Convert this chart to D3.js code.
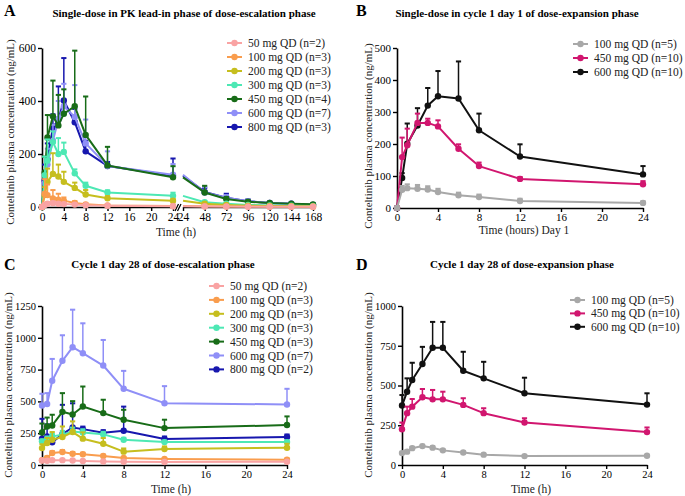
<!DOCTYPE html>
<html><head><meta charset="utf-8">
<script src="https://cdn.jsdelivr.net/npm/d3@7"></script>
<style>body{margin:0;background:#fff}svg{display:block}</style>
</head><body>
<svg id="c" width="685" height="496"></svg>
<script>
const FONT = "'Liberation Serif','Times New Roman',serif";
const svg = d3.select("#c");

// ---------------- DATA ----------------
const timesA = [0,0.5,1,2,3,4,6,8,12,24,48,72,96,120,144,168];
const timesB = [0,0.5,1,2,3,4,6,8,12,24];

const labelsEscA = ["50 mg QD (n=2)","100 mg QD (n=3)","200 mg QD (n=3)","300 mg QD (n=3)","450 mg QD (n=4)","600 mg QD (n=7)","800 mg QD (n=3)"];
const labelsEscC = ["50 mg QD (n=2)","100 mg QD (n=3)","200 mg QD (n=3)","300 mg QD (n=3)","450 mg QD (n=3)","600 mg QD (n=7)","800 mg QD (n=2)"];
const labelsExp = ["100 mg QD (n=5)","450 mg QD (n=10)","600 mg QD (n=10)"];
const colorsEsc = ["#F9A3A3","#F99D4E","#C6BE1E","#4DE8B4","#186C18","#8F8FF7","#1717AE"];
const colorsExp = ["#A8A8A8","#D1166F","#111111"];

const yTicksA = [0,200,400,600];
const xTicksA1 = [0,4,8,12,16,20,24];
const xTicksA2 = [24,48,72,96,120,144,168];
const yTicksB = [0,100,200,300,400,500];
const xTicks24 = [0,4,8,12,16,20,24];
const yTicksC = [0,250,500,750,1000,1250];
const yTicksD = [0,250,500,750,1000];

// Panel A: single dose, PK lead-in (dose escalation)
const A_50  = [0,8,12,14,12,11,9,7,5,3,2,2,1,1,1,1];
const A_50_sd  = [0,4,6,6,5,5,4,3,2,2,1,1,1,1,1,1];
const A_100 = [0,50,45,32,28,24,15,10,6,4,3,2,2,1,1,1];
const A_100_sd = [0,55,40,32,22,12,7,5,3,2,1,1,1,1,1,1];
const A_200 = [0,45,95,125,115,95,72,47,33,24,12,8,5,4,3,2];
const A_200_sd = [0,30,50,78,45,38,20,17,8,6,4,3,2,1,1,1];
const A_300 = [0,120,175,245,200,208,127,80,55,42,18,12,8,6,5,4];
const A_300_sd = [0,70,80,40,60,35,15,12,8,12,5,3,2,2,1,1];
const A_450 = [0,130,262,342,308,352,380,272,157,112,55,30,20,15,12,10];
const A_450_sd = [0,60,85,135,115,92,210,145,70,42,25,8,5,4,3,3];
const A_600 = [0,90,160,250,330,380,340,240,155,122,55,35,22,15,12,8];
const A_600_sd = [0,40,60,60,70,85,120,90,55,40,20,10,6,4,3,2];
const A_800 = [0,100,180,300,330,402,320,210,155,118,57,35,22,15,12,8];
const A_800_sd = [0,60,60,50,125,160,50,40,15,65,15,15,6,4,3,2];

// Panel B: single dose, cycle 1 day 1 (dose expansion)
const B_100 = [0,57,62,60,58,50,40,34,22,16];
const B_100_sd = [0,12,12,12,10,10,8,8,7,5];
const B_450 = [0,159,196,266,266,255,185,131,91,74];
const B_450_sd = [0,61,52,29,13,19,14,11,6,10];
const B_600 = [0,94,201,258,320,349,342,243,161,105];
const B_600_sd = [0,15,63,54,55,79,116,52,38,26];

// Panel C: cycle 1 day 28 (dose escalation)
const C_50  = [35,33,38,38,35,32,28,25,24,25];
const C_50_sd  = [8,8,8,8,8,7,6,5,5,5];
const C_100 = [37,55,94,102,89,84,71,55,47,42];
const C_100_sd = [10,12,15,15,12,12,10,8,8,8];
const C_200 = [133,173,199,220,259,207,167,105,126,136];
const C_200_sd = [30,40,60,83,84,50,45,25,20,31];
const C_300 = [186,204,225,238,264,256,241,199,180,180];
const C_300_sd = [15,20,20,30,30,25,20,15,12,12];
const C_450 = [256,303,311,418,397,460,408,356,290,314];
const C_450_sd = [70,70,84,147,105,157,105,78,66,68];
const C_600 = [468,479,662,819,926,879,782,599,486,476];
const C_600_sd = [92,86,172,201,295,235,201,141,134,123];
const C_800 = [207,225,178,243,295,282,254,269,204,220];
const C_800_sd = [156,95,30,230,190,20,20,190,20,20];

// Panel D: cycle 1 day 28 (dose expansion)
const D_100 = [75,84,106,119,109,92,79,65,56,58];
const D_100_sd = [8,8,8,8,8,6,6,5,5,5];
const D_450 = [225,326,367,426,413,413,378,326,267,207];
const D_450_sd = [42,41,48,52,59,48,42,31,27,29];
const D_600 = [374,461,535,635,737,737,593,545,451,380];
const D_600_sd = [66,84,108,108,163,163,119,104,98,71];

// ---------------- DRAW ----------------
const fmt = d3.format("d");
function styleAxis(a, fs){
  a.attr("font-family", null).attr("font-size", null);
  a.select(".domain").attr("stroke","#000").attr("stroke-width",1.6);
  a.selectAll(".tick line").attr("stroke","#000").attr("stroke-width",1.4);
  a.selectAll(".tick text").attr("font-family",FONT).attr("font-size",fs).attr("fill","#000");
}

function panel(cfg){
  const g = svg.append("g");
  const y = d3.scaleLinear().domain(cfg.yDomain).range(cfg.yRange);
  const segs = cfg.segs.map(s => Object.assign({}, s, {x: d3.scaleLinear().domain(s.domain).range(s.range)}));
  const x0 = segs[0].range[0];

  const ya = g.append("g").attr("transform",`translate(${x0},0)`)
    .call(d3.axisLeft(y).tickValues(cfg.yTicks).tickFormat(fmt).tickSize(4).tickSizeOuter(0).tickPadding(2));
  styleAxis(ya, cfg.tickFont);
  segs.forEach(s=>{
    const xa = g.append("g").attr("transform",`translate(0,${cfg.yRange[0]})`)
      .call(d3.axisBottom(s.x).tickValues(s.ticks).tickFormat(fmt).tickSize(4).tickSizeOuter(0).tickPadding(1.5));
    styleAxis(xa, cfg.tickFont);
  });
  if (cfg.breakAt){
    const bx = cfg.breakAt, by = cfg.yRange[0];
    g.append("line").attr("x1",bx-2).attr("x2",bx+1.5).attr("y1",by+4).attr("y2",by-3).attr("stroke","#000").attr("stroke-width",1.3);
    g.append("line").attr("x1",bx+0.5).attr("x2",bx+4).attr("y1",by+4).attr("y2",by-3).attr("stroke","#000").attr("stroke-width",1.3);
  }

  const order = cfg.series.map((d,i)=>i).reverse();
  order.forEach(i=>{
    const se = cfg.series[i];
    segs.forEach((s,si)=>{
      const pts = cfg.times.map((t,k)=>({t, v:se.mean[k], e:se.sd[k]}))
        .filter(d=>d.t>=s.domain[0] && d.t<=s.domain[1]);
      const mk = pts.filter(d => si===0 || d.t>s.domain[0]);
      g.append("path").datum(pts).attr("fill","none").attr("stroke",se.color)
        .attr("stroke-width",2).attr("stroke-linejoin","round")
        .attr("d", d3.line().x(d=>s.x(d.t)).y(d=>y(d.v)));
      const eb = g.append("g").attr("stroke",se.color);
      mk.filter(d=>d.e>0).forEach(d=>{
        const cx = s.x(d.t), y1 = y(d.v), y2 = y(d.v+d.e);
        eb.append("line").attr("x1",cx).attr("x2",cx).attr("y1",y1).attr("y2",y2).attr("stroke-width",1.5);
        eb.append("line").attr("x1",cx-2.6).attr("x2",cx+2.6).attr("y1",y2).attr("y2",y2).attr("stroke-width",2);
      });
      g.append("g").selectAll("circle").data(mk).join("circle")
        .attr("cx",d=>s.x(d.t)).attr("cy",d=>y(d.v)).attr("r",3.2).attr("fill",se.color);
    });
  });

  const L = cfg.legend;
  cfg.series.forEach((se,i)=>{
    const ly = L.y + i*L.dy;
    g.append("line").attr("x1",L.x).attr("x2",L.x+15).attr("y1",ly).attr("y2",ly)
      .attr("stroke",se.color).attr("stroke-width",2);
    g.append("circle").attr("cx",L.x+7.5).attr("cy",ly).attr("r",3.2).attr("fill",se.color);
    g.append("text").attr("x",L.x+21).attr("y",ly).attr("dy","0.35em")
      .attr("font-family",FONT).attr("font-size","11.5px").attr("fill","#222").text(se.label);
  });

  g.append("text").attr("x",cfg.letter[0]).attr("y",cfg.letter[1])
    .attr("font-family",FONT).attr("font-weight","bold").attr("font-size","16px").text(cfg.letterText);
  g.append("text").attr("x",cfg.title[0]).attr("y",cfg.title[1]).attr("text-anchor","middle")
    .attr("font-family",FONT).attr("font-weight","bold").attr("font-size","11px").text(cfg.titleText);
  g.append("text").attr("transform",`translate(${cfg.ylab[0]},${cfg.ylab[1]}) rotate(-90)`)
    .attr("text-anchor","middle").attr("dy","0.35em")
    .attr("font-family",FONT).attr("font-size","11px").attr("fill","#222").text("Conteltinib plasma concentration (ng/mL)");
  g.append("text").attr("x",cfg.xlab[0]).attr("y",cfg.xlab[1]).attr("text-anchor","middle")
    .attr("font-family",FONT).attr("font-size","11.5px").attr("fill","#222").text(cfg.xlabText);
}

function mkSeries(means, sds, colors, labels){
  return means.map((m,i)=>({mean:m, sd:sds[i], color:colors[i], label:labels[i]}));
}

panel({
  times: timesA, yDomain:[0,600], yRange:[207,48], yTicks:yTicksA, tickFont:"11.5px",
  segs:[{domain:[0,24], range:[42,173], ticks:xTicksA1},{domain:[24,168], range:[183,313], ticks:xTicksA2}],
  breakAt:177,
  series: mkSeries([A_50,A_100,A_200,A_300,A_450,A_600,A_800],[A_50_sd,A_100_sd,A_200_sd,A_300_sd,A_450_sd,A_600_sd,A_800_sd],colorsEsc,labelsEscA),
  legend:{x:227,y:43,dy:14},
  letter:[4,16], letterText:"A",
  title:[184,17], titleText:"Single-dose in PK lead-in phase of dose-escalation phase",
  ylab:[10,132], xlab:[176,236], xlabText:"Time (h)"
});

panel({
  times: timesB, yDomain:[0,500], yRange:[208,48], yTicks:yTicksB, tickFont:"11px",
  segs:[{domain:[0,24], range:[397,643], ticks:xTicks24}],
  series: mkSeries([B_100,B_450,B_600],[B_100_sd,B_450_sd,B_600_sd],colorsExp,labelsExp),
  legend:{x:573,y:44,dy:14},
  letter:[356,16], letterText:"B",
  title:[517,17], titleText:"Single-dose in cycle 1 day 1 of dose-expansion phase",
  ylab:[368,136], xlab:[524,234], xlabText:"Time (hours) Day 1"
});

panel({
  times: timesB, yDomain:[0,1250], yRange:[465,306], yTicks:yTicksC, tickFont:"10.5px",
  segs:[{domain:[0,24], range:[42,287], ticks:xTicks24}],
  series: mkSeries([C_50,C_100,C_200,C_300,C_450,C_600,C_800],[C_50_sd,C_100_sd,C_200_sd,C_300_sd,C_450_sd,C_600_sd,C_800_sd],colorsEsc,labelsEscC),
  legend:{x:209,y:286,dy:13.9},
  letter:[4,270], letterText:"C",
  title:[163,268], titleText:"Cycle 1 day 28 of dose-escalation phase",
  ylab:[8,385], xlab:[171,493], xlabText:"Time (h)"
});

panel({
  times: timesB, yDomain:[0,1000], yRange:[465,306], yTicks:yTicksD, tickFont:"10.5px",
  segs:[{domain:[0,24], range:[402,647], ticks:xTicks24}],
  series: mkSeries([D_100,D_450,D_600],[D_100_sd,D_450_sd,D_600_sd],colorsExp,labelsExp),
  legend:{x:570,y:300,dy:13.4},
  letter:[356,270], letterText:"D",
  title:[522,268], titleText:"Cycle 1 day 28 of dose-expansion phase",
  ylab:[368,385], xlab:[531,493], xlabText:"Time (h)"
});
</script>
</body></html>
